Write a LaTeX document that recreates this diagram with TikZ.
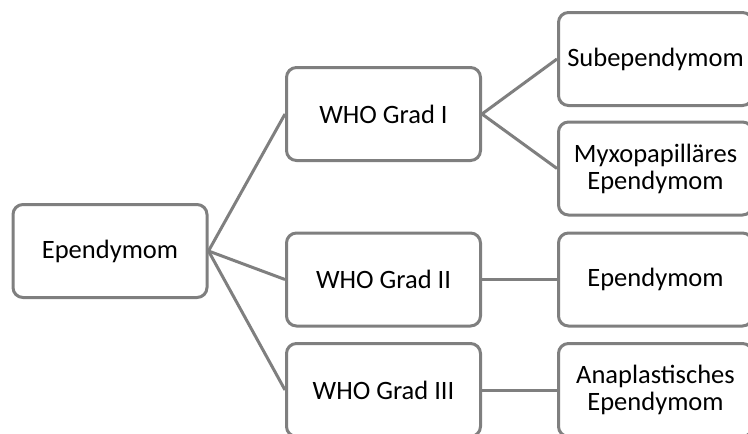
\documentclass[tikz,border=0pt]{standalone}
\usepackage{fontspec}
\setmainfont{Carlito}
\definecolor{linegray}{RGB}{127,127,127}
\begin{document}
\begin{tikzpicture}[x=1pt,y=-1pt,
  box/.style={draw=linegray, line width=3pt, rounded corners=10pt, fill=white,
    minimum width=194pt, minimum height=93pt, inner sep=0pt, align=center,
    font=\fontsize{26.5}{27}\selectfont},
  link/.style={draw=linegray, line width=3pt}]
\useasboundingbox (0,0) rectangle (748,434);
\clip (0,0) rectangle (748,434);
\node[box] (E)  at (110,251)   {Ependymom};
\node[box] (W1) at (383.5,114) {WHO Grad I};
\node[box] (W2) at (383.5,279.5) {WHO Grad II};
\node[box] (W3) at (383.5,390) {WHO Grad III};
\node[box] (S)  at (655.5,59)  {Subependymom};
\node[box] (M)  at (655.5,168.5) {Myxopapilläres\\Ependymom};
\node[box] (E2) at (655.5,279.5) {Ependymom};
\node[box] (A)  at (655.5,390) {Anaplastisches\\Ependymom};
\draw[link] (E.east) -- (W1.west);
\draw[link] (E.east) -- (W2.west);
\draw[link] (E.east) -- (W3.west);
\draw[link] (W1.east) -- (S.west);
\draw[link] (W1.east) -- (M.west);
\draw[link] (W2.east) -- (E2.west);
\draw[link] (W3.east) -- (A.west);
\end{tikzpicture}
\end{document}
